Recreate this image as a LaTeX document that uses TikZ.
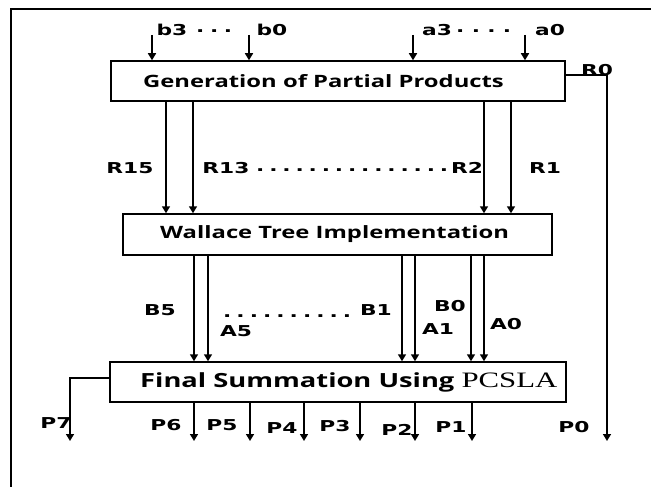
\documentclass[tikz,border=0pt]{standalone}
\usepackage{fontspec}
\usetikzlibrary{arrows.meta}
\newfontfamily\labfont[FakeStretch=1.45]{DejaVu Sans}
\newfontfamily\boxfont[FakeStretch=1.4]{Open Sans}
\newfontfamily\pcfont[FakeStretch=1.4]{Liberation Serif}
\begin{document}
\begin{tikzpicture}[x=1pt,y=-1pt,
  box/.style={draw, line width=1.5pt, inner sep=0pt},
  wire/.style={line width=1.6pt},
  arr/.style={wire, -{Triangle[width=8pt,length=7pt]}},
  lab/.style={font=\labfont\bfseries\fontsize{15}{15}\selectfont, inner sep=0pt},
  dotsl/.style={lab, anchor=west},
  btxt/.style={font=\boxfont\bfseries\fontsize{17}{17}\selectfont, inner sep=0pt, anchor=west}]
\useasboundingbox (0,0) rectangle (651,487);
% frame
\draw[line width=1.3pt] (11,487) -- (11,9) -- (651,9);
% boxes
\node[box, minimum width=454pt, minimum height=40pt] (gen) at (338,81) {};
\node[btxt] (gent) at (143,81) {Generation of Partial Products};
\node[box, minimum width=429pt, minimum height=41pt] (wal) at (337.5,234.5) {};
\node[btxt] (walt) at (160,234.5) {Wallace Tree Implementation};
\node[box, minimum width=456pt, minimum height=40pt] (fin) at (338,382) {};
\begin{scope}
\clip (fin.south west) rectangle (fin.north east);
\node[btxt, font=\boxfont\bfseries\fontsize{19.5}{19.5}\selectfont] (fint) at (140,382) {Final Summation Using {\pcfont\mdseries\fontsize{22}{22}\selectfont PCSLA}};
\end{scope}
% inputs
\foreach \n/\x in {b3/152,b0/249,a3/413,a0/525}{
  \coordinate (i\n) at (\x,35);
  \draw[arr] (i\n) -- (i\n |- gen.north);
}
\node[lab] (lb3) at (172,30) {b3};
\node[dotsl] (ldb) at (196,31) {\makebox[36pt]{.\hfill.\hfill.}};
\node[lab] (lb0) at (272,30) {b0};
\node[lab] (la3) at (437,30) {a3};
\node[dotsl] (lda) at (456,31) {\makebox[55pt]{.\hfill.\hfill.\hfill.}};
\node[lab] (la0) at (550,30) {a0};
% R arrows
\foreach \x in {166,193,484,511}{
  \draw[arr] (gen.south -| \x,0) -- (wal.north -| \x,0);
}
\node[lab] (lr15) at (130,168) {R15};
\node[lab] (lr13) at (226,168) {R13};
\node[dotsl] (ldr) at (256,170) {\makebox[192pt]{.\hfill.\hfill.\hfill.\hfill.\hfill.\hfill.\hfill.\hfill.\hfill.\hfill.\hfill.\hfill.\hfill.\hfill.}};
\node[lab] (lr2) at (467,168) {R2};
\node[lab] (lr1) at (545,168) {R1};
% R0
\coordinate (r0c) at (607,75);
\coordinate (r0e) at (607,441);
\draw[arr] (gen.east |- r0c) -- (r0c) -- (r0e);
\node[lab] (lr0) at (597,70) {R0};
% Wallace outputs
\foreach \x in {194,208,402,415,471,484}{
  \draw[arr] (wal.south -| \x,0) -- (fin.north -| \x,0);
}
\node[lab] (lb5) at (160,310) {B5};
\node[lab] (la5) at (236,331) {A5};
\node[dotsl] (ldab) at (223,316) {\makebox[128pt]{.\hfill.\hfill.\hfill.\hfill.\hfill.\hfill.\hfill.\hfill.\hfill.}};
\node[lab] (lb1) at (376,310) {B1};
\node[lab] (lb0b) at (450,306) {B0};
\node[lab] (la1) at (438,329) {A1};
\node[lab] (la0b) at (506,324) {A0};
% P7
\coordinate (p7c) at (70,378);
\coordinate (p7e) at (70,441);
\draw[arr] (fin.west |- p7c) -- (p7c) -- (p7e);
% outputs
\foreach \n/\x in {6/194,5/250,4/304,3/360,2/415,1/472}{
  \coordinate (p\n e) at (\x,441);
  \draw[arr] (fin.south -| p\n e) -- (p\n e);
}
\node[lab] (lp7) at (56,423) {P7};
\node[lab] (lp6) at (166,425) {P6};
\node[lab] (lp5) at (222,425) {P5};
\node[lab] (lp4) at (282,428) {P4};
\node[lab] (lp3) at (335,426) {P3};
\node[lab] (lp2) at (397,430) {P2};
\node[lab] (lp1) at (451,427) {P1};
\node[lab] (lp0) at (574,427) {P0};
\end{tikzpicture}
\end{document}
